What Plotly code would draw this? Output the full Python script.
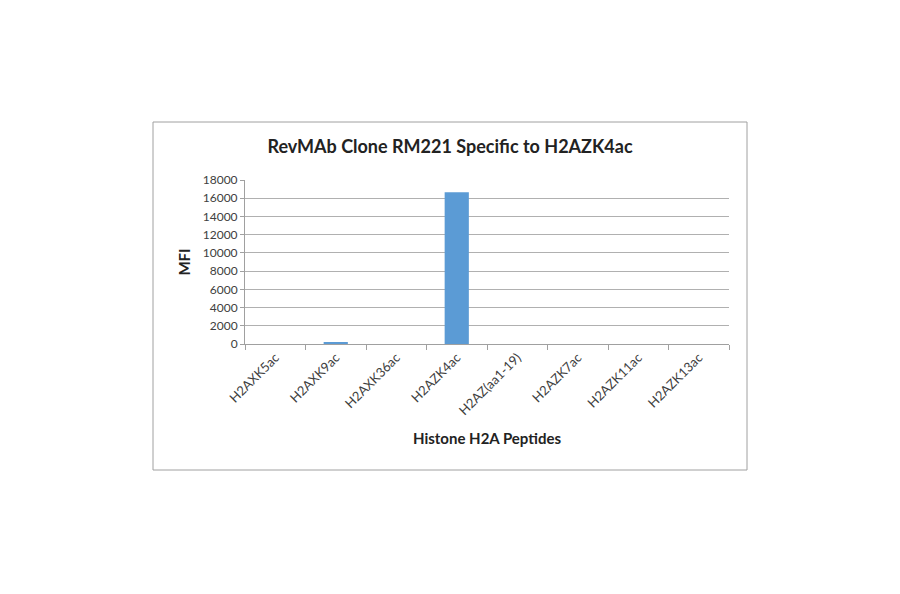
import plotly.graph_objects as go

peptides = ["H2AXK5ac", "H2AXK9ac", "H2AXK36ac", "H2AZK4ac",
            "H2AZ(aa1-19)", "H2AZK7ac", "H2AZK11ac", "H2AZK13ac"]
mfi = [0, 150, 0, 16650, 0, 0, 0, 0]
y_ticks = list(range(0, 18001, 2000))
y_labels = [str(v) for v in y_ticks]

fig = go.Figure()
fig.add_trace(go.Bar(x=peptides, y=mfi, marker_color="#5b9bd5",
                     marker_line_width=0, width=0.4))

font = "Lato"
fig.update_layout(
    width=900, height=594,
    margin=dict(l=237, r=179, t=172, b=258),
    paper_bgcolor="white", plot_bgcolor="white",
    showlegend=False,
    title=dict(text="<b>RevMAb Clone RM221 Specific to H2AZK4ac</b>",
               x=0.5 - 8 / 900, xref="container", xanchor="center",
               y=1 - 139 / 594, yref="container", yanchor="middle",
               font=dict(family=font, size=18, color="#222")),
    font=dict(family=font, size=12, color="#404040"),
)

fig.update_yaxes(range=[0, 18000], tickvals=y_ticks, ticktext=y_labels,
                 showgrid=True, gridcolor="#b0b0b0", gridwidth=1,
                 showline=True, linecolor="#a0a0a0", ticks="outside",
                 ticklen=4, tickcolor="#a0a0a0", zeroline=False,
                 title=dict(text="<b>MFI</b>", font=dict(size=15, color="#222"),
                            standoff=8))
fig.update_xaxes(showline=True, linecolor="#a0a0a0", ticks="outside",
                 ticklen=5, tickcolor="#a0a0a0", tickson="boundaries",
                 tickangle=-45, showgrid=False, tickfont=dict(size=13),
                 title=dict(text="<b>Histone H2A Peptides</b>",
                            font=dict(size=15, color="#222"), standoff=16))

# outer chart frame
fig.add_shape(type="rect", xref="paper", yref="paper",
              x0=(153 - 245) / 484, x1=(747 - 245) / 484,
              y0=(344 - 470) / 164, y1=(344 - 122) / 164,
              line=dict(color="#a0a0a0", width=1))

fig.write_html("out.html")
